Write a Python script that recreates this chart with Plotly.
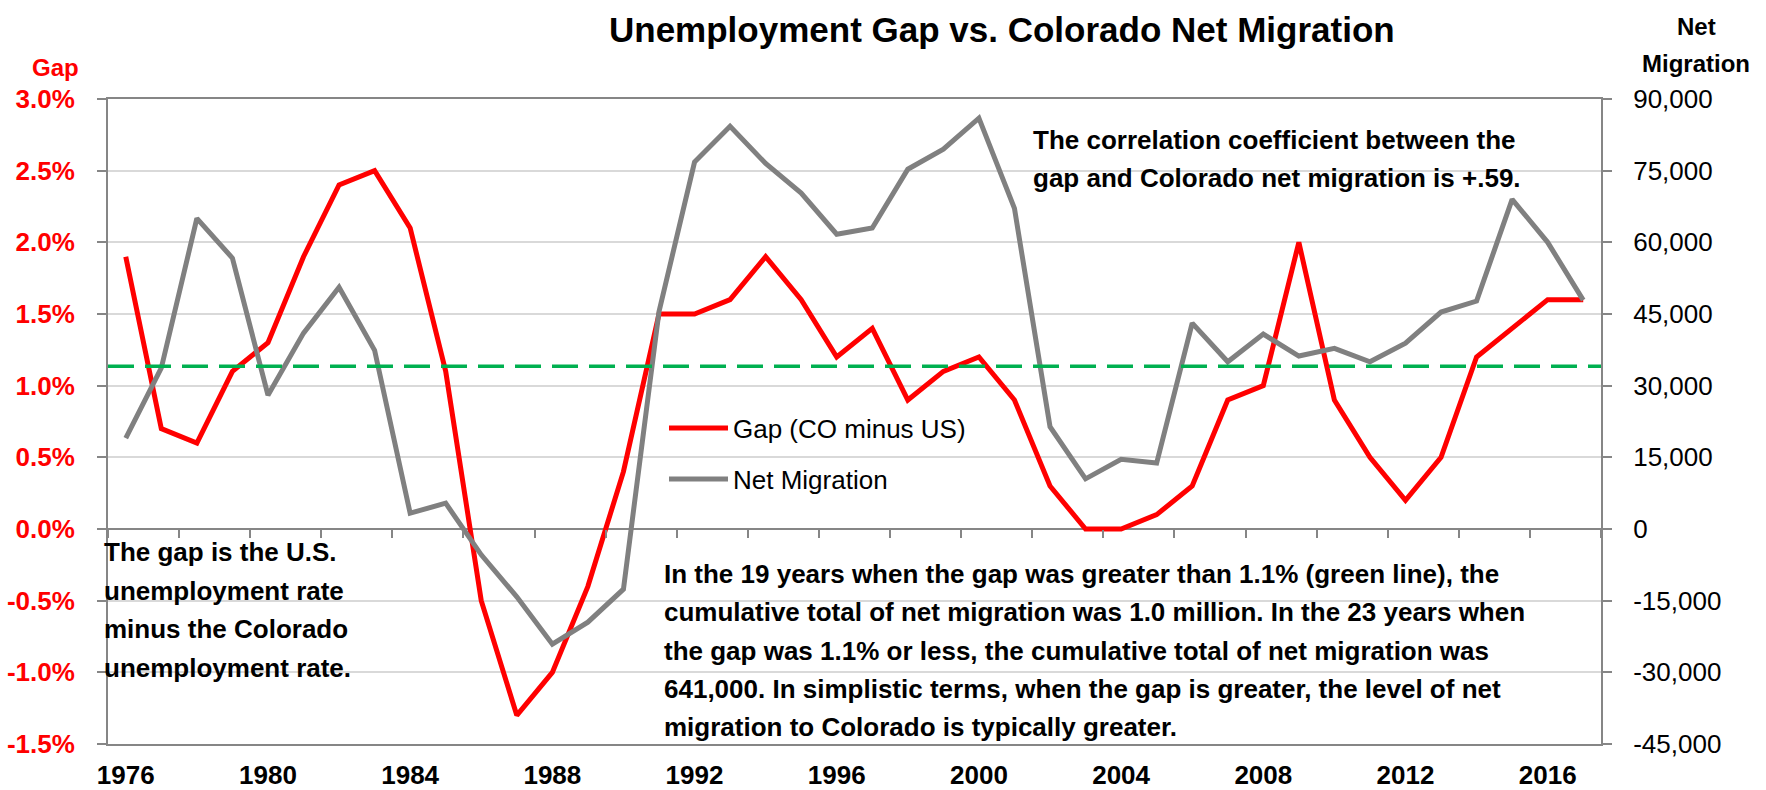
import plotly.graph_objects as go

# ---------------- data ----------------
YEARS = list(range(1976, 2018))
GAP_PCT = [1.9, 0.7, 0.6, 1.1, 1.3, 1.9, 2.4, 2.5, 2.1, 1.1,
           -0.5, -1.3, -1.0, -0.4, 0.4, 1.5, 1.5, 1.6, 1.9, 1.6,
           1.2, 1.4, 0.9, 1.1, 1.2, 0.9, 0.3, 0.0, 0.0, 0.1,
           0.3, 0.9, 1.0, 2.0, 0.9, 0.5, 0.2, 0.5, 1.2, 1.4,
           1.6, 1.6]
NET_MIGRATION = [19000, 33700, 65000, 56700, 28000, 41000, 50600, 37400, 3300, 5400,
                 -5400, -14200, -24100, -19500, -12600, 45500, 76800, 84300, 76500, 70300,
                 61700, 63000, 75300, 79500, 86000, 67100, 21400, 10500, 14600, 13800,
                 43100, 35000, 40800, 36200, 37800, 35000, 38900, 45400, 47700, 69000,
                 60000, 47900]
GAP_THRESHOLD = 1.135  # green dashed reference line (gap, %)

X_LABEL_YEARS = list(range(1976, 2017, 4))
X_MINOR_TICKS = [1975.5 + 2 * k for k in range(22)]
LEFT_TICKS = [-1.5, -1.0, -0.5, 0.0, 0.5, 1.0, 1.5, 2.0, 2.5, 3.0]
LEFT_TICK_LABELS = ["-1.5%", "-1.0%", "-0.5%", "0.0%", "0.5%", "1.0%", "1.5%", "2.0%", "2.5%", "3.0%"]
RIGHT_TICKS = [-45000, -30000, -15000, 0, 15000, 30000, 45000, 60000, 75000, 90000]
RIGHT_TICK_LABELS = ["-45,000", "-30,000", "-15,000", "0", "15,000", "30,000",
                     "45,000", "60,000", "75,000", "90,000"]

TITLE = "Unemployment Gap vs. Colorado Net Migration"
CORR_LINES = ["The correlation coefficient between the",
              "gap and Colorado net migration is +.59."]
GAP_NOTE_LINES = ["The gap is the U.S.", "unemployment rate",
                  "minus the Colorado", "unemployment rate."]
PARA_LINES = ["In the 19 years when the gap was greater than 1.1% (green line), the",
              "cumulative total of net migration was 1.0 million. In the 23 years when",
              "the gap was 1.1% or less, the cumulative total of net migration was",
              "641,000. In simplistic terms, when the gap is greater, the level of net",
              "migration to Colorado is typically greater."]

# ---------------- layout geometry ----------------
W, H = 1766, 790
L, R, T, B = 108, 1601, 99, 744
FONT = "Liberation Sans, Arial, Helvetica, sans-serif"
AXIS_GRAY = "#868686"


def fx(x):
    return (x - L) / (R - L)


def fy(y):
    return (B - y) / (B - T)


fig = go.Figure()

fig.add_trace(go.Scatter(
    x=YEARS, y=GAP_PCT, mode="lines", name="Gap (CO minus US)",
    line=dict(color="#FF0000", width=5), xaxis="x", yaxis="y", legend="legend",
    hoverinfo="skip"))
fig.add_trace(go.Scatter(
    x=YEARS, y=NET_MIGRATION, mode="lines", name="Net Migration",
    line=dict(color="#808080", width=5), xaxis="x2", yaxis="y2", legend="legend2",
    hoverinfo="skip"))

annotations = []
annotations.append(dict(text=TITLE, x=fx(1002), y=fy(29), xref="paper", yref="paper",
                        xanchor="center", yanchor="middle", showarrow=False,
                        font=dict(family=FONT, size=35, color="black", weight="bold")))
annotations.append(dict(text="Gap", x=fx(81), y=fy(67), xref="paper", yref="paper",
                        xanchor="right", yanchor="middle", showarrow=False,
                        font=dict(family=FONT, size=24, color="#FF0000", weight="bold")))
for txt, yy in zip(["Net", "Migration"], [26.5, 64]):
    annotations.append(dict(text=txt, x=fx(1696), y=fy(yy), xref="paper", yref="paper",
                            xanchor="center", yanchor="middle", showarrow=False,
                            font=dict(family=FONT, size=24, color="black", weight="bold")))
for i, txt in enumerate(CORR_LINES):
    annotations.append(dict(text=txt, x=fx(1031), y=fy(140 + 38 * i), xref="paper", yref="paper",
                            xanchor="left", yanchor="middle", showarrow=False,
                            font=dict(family=FONT, size=26, color="black", weight="bold")))
for i, txt in enumerate(GAP_NOTE_LINES):
    annotations.append(dict(text=txt, x=fx(102), y=fy(552 + 38.5 * i), xref="paper", yref="paper",
                            xanchor="left", yanchor="middle", showarrow=False,
                            font=dict(family=FONT, size=26, color="black", weight="bold")))
for i, txt in enumerate(PARA_LINES):
    annotations.append(dict(text=txt, x=fx(662), y=fy(574 + 38.3 * i), xref="paper", yref="paper",
                            xanchor="left", yanchor="middle", showarrow=False,
                            font=dict(family=FONT, size=26, color="black", weight="bold")))

legend_common = dict(font=dict(family=FONT, size=26, color="black"),
                     bgcolor="rgba(0,0,0,0)", borderwidth=0, itemwidth=59,
                     xanchor="left", yanchor="middle", orientation="v")

fig.update_layout(
    width=W, height=H,
    margin=dict(l=L, r=W - R, t=T, b=H - B, pad=0, autoexpand=False),
    plot_bgcolor="white", paper_bgcolor="white",
    font=dict(family=FONT, size=26, color="black"),
    showlegend=True,
    legend=dict(x=fx(664), y=fy(428), **legend_common),
    legend2=dict(x=fx(664), y=fy(479), **legend_common),
    # x: tick marks sitting on the zero line (Excel-style category ticks)
    xaxis=dict(range=[1975.5, 2017.5], anchor="free", position=1.5 / 4.5,
               side="bottom", tickvals=X_MINOR_TICKS, ticks="outside",
               ticklen=8, tickwidth=2, tickcolor=AXIS_GRAY,
               showticklabels=False, showline=False, showgrid=False,
               zeroline=False, automargin=False),
    # x2: year labels at the bottom, plus the frame lines
    xaxis2=dict(range=[1975.5, 2017.5], overlaying="x", anchor="y2", side="bottom",
                tickvals=X_LABEL_YEARS, ticktext=[str(y) for y in X_LABEL_YEARS],
                ticks="", ticklen=0, showgrid=False, zeroline=False,
                showline=True, mirror=True, linecolor=AXIS_GRAY, linewidth=2,
                tickfont=dict(family=FONT, size=26, color="black", weight="bold"),
                ticklabelstandoff=7, automargin=False),
    yaxis=dict(range=[-1.5, 3.0], tickvals=LEFT_TICKS, ticktext=LEFT_TICK_LABELS,
               showgrid=True, gridcolor="#D9D9D9", gridwidth=2,
               zeroline=True, zerolinecolor=AXIS_GRAY, zerolinewidth=2,
               showline=True, linecolor=AXIS_GRAY, linewidth=2,
               ticks="outside", ticklen=9, tickwidth=2, tickcolor=AXIS_GRAY,
               tickfont=dict(family=FONT, size=26, color="#FF0000", weight="bold"),
               ticklabelstandoff=17, automargin=False),
    yaxis2=dict(range=[-45000, 90000], overlaying="y", side="right", anchor="x2",
                tickvals=RIGHT_TICKS, ticktext=RIGHT_TICK_LABELS,
                showgrid=False, zeroline=False,
                showline=True, linecolor=AXIS_GRAY, linewidth=2,
                ticks="outside", ticklen=9, tickwidth=2, tickcolor=AXIS_GRAY,
                tickfont=dict(family=FONT, size=26, color="black"),
                ticklabelstandoff=16, automargin=False),
    shapes=[dict(type="line", xref="x domain", x0=0, x1=1, yref="y",
                 y0=GAP_THRESHOLD, y1=GAP_THRESHOLD, layer="above",
                 line=dict(color="#00B050", width=3.5, dash="26px,11px"))],
    annotations=annotations,
)

fig.write_html("out.html", config={"displayModeBar": False},
               post_script="document.body.style.margin='0';")
